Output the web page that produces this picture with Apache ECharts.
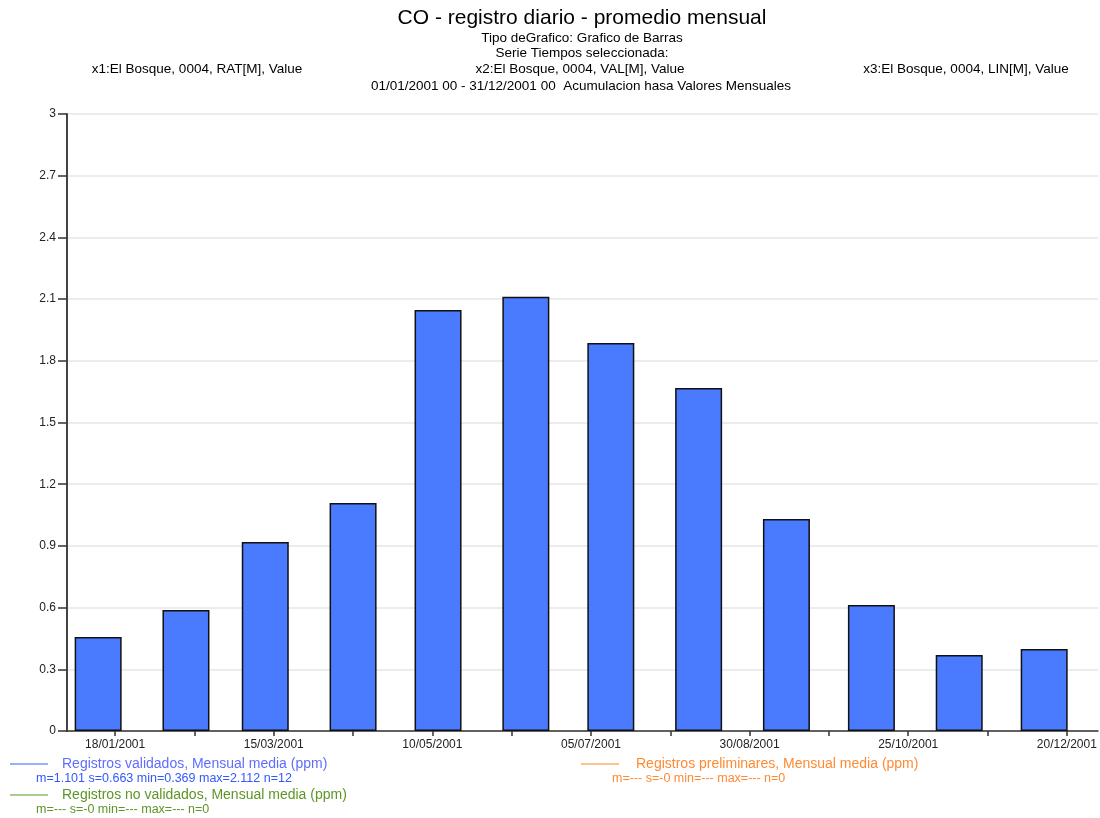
<!DOCTYPE html>
<html>
<head>
<meta charset="utf-8">
<title>CO - registro diario - promedio mensual</title>
<script src="https://cdn.jsdelivr.net/npm/echarts@6/dist/echarts.min.js"></script>
<style>
	html, body { margin: 0; padding: 0; background: #fff; }
	#chartDiv { width: 1100px; height: 818px; }
</style>
</head>
<body>
<div id="chartDiv"></div>
<script>
// datos mensuales (ppm)
var barDates = ['2001-01-12', '2001-02-12', '2001-03-12', '2001-04-12', '2001-05-12', '2001-06-12',
	'2001-07-12', '2001-08-12', '2001-09-12', '2001-10-12', '2001-11-12', '2001-12-12'];
var validados = [0.457, 0.588, 0.919, 1.109, 2.047, 2.112, 1.887, 1.668, 1.031, 0.613, 0.369, 0.399];
var preliminares = [];
var noValidados = [];

// marcas del eje x
var tickDates = ['2001-01-18', '2001-02-15', '2001-03-15', '2001-04-12', '2001-05-10', '2001-06-07', '2001-07-05',
	'2001-08-02', '2001-08-30', '2001-09-27', '2001-10-25', '2001-11-22', '2001-12-20'];
var labelDates = ['2001-01-18', '2001-03-15', '2001-05-10', '2001-07-05', '2001-08-30', '2001-10-25', '2001-12-20'];
var axisStart = '2001-01-01';
var axisEnd = '2001-12-31';

var titleText = 'CO - registro diario - promedio mensual';
var subLines = ['Tipo deGrafico: Grafico de Barras', 'Serie Tiempos seleccionada:'];
var serieLabels = ['x1:El Bosque, 0004, RAT[M], Value', 'x2:El Bosque, 0004, VAL[M], Value', 'x3:El Bosque, 0004, LIN[M], Value'];
var rangeText = '01/01/2001 00 - 31/12/2001 00  Acumulacion hasa Valores Mensuales';

var seriesNames = ['Registros validados, Mensual media (ppm)', 'Registros preliminares, Mensual media (ppm)', 'Registros no validados, Mensual media (ppm)'];
var seriesStats = ['m=1.101 s=0.663 min=0.369 max=2.112 n=12', 'm=--- s=-0 min=--- max=--- n=0', 'm=--- s=-0 min=--- max=--- n=0'];

var FONT = '"Liberation Sans", Arial, sans-serif';

function toTs(s) {
	var p = s.split('-');
	return new Date(+p[0], +p[1] - 1, +p[2]).getTime();
}

function pad2(n) {
	return n < 10 ? '0' + n : '' + n;
}

function fmtDate(v) {
	var d = new Date(v);
	return pad2(d.getDate()) + '/' + pad2(d.getMonth() + 1) + '/' + d.getFullYear();
}

function textEl(x, y, text, size, color, align) {
	return {
		type: 'text',
		x: x,
		y: y,
		silent: true,
		style: {
			text: text,
			fontFamily: FONT,
			fontSize: size,
			fill: color,
			align: align || 'left',
			verticalAlign: 'middle'
		}
	};
}

function lineEl(x1, x2, y, color) {
	return {
		type: 'line',
		silent: true,
		shape: { x1: x1, y1: y, x2: x2, y2: y },
		style: { stroke: color, lineWidth: 1.2 }
	};
}

var chart = echarts.init(document.getElementById('chartDiv'));

var legendColors = [
	{ line: '#3a5cff', text: '#5e6dff', stats: '#3357ff' },
	{ line: '#ff8a1e', text: '#ff8a33', stats: '#ff8a33' },
	{ line: '#5a9a22', text: '#5d9626', stats: '#5d9626' }
];
// linea, texto, estadisticas
var legendPos = [
	{ x: 10, tx: 62, sx: 36, y: 764 },
	{ x: 581, tx: 636, sx: 612, y: 764 },
	{ x: 10, tx: 62, sx: 36, y: 795 }
];

var graphics = [
	textEl(582, 18, titleText, 21, '#000', 'center'),
	textEl(582, 38, subLines[0], 13.5, '#000', 'center'),
	textEl(582, 53, subLines[1], 13.5, '#000', 'center'),
	textEl(197, 69, serieLabels[0], 13.5, '#000', 'center'),
	textEl(580, 69, serieLabels[1], 13.5, '#000', 'center'),
	textEl(966, 69, serieLabels[2], 13.5, '#000', 'center'),
	textEl(581, 86, rangeText, 13.5, '#000', 'center')
];

for (var i = 0; i < 3; i++) {
	var p = legendPos[i];
	graphics.push(lineEl(p.x, p.x + 38, p.y, legendColors[i].line));
	graphics.push(textEl(p.tx, p.y, seriesNames[i], 14, legendColors[i].text));
	graphics.push(textEl(p.sx, p.y + 15, seriesStats[i], 12.5, legendColors[i].stats));
}

var option = {
	animation: false,
	backgroundColor: '#fff',
	textStyle: { fontFamily: FONT },
	grid: {
		left: 67,
		right: 2,
		top: 114,
		bottom: 87
	},
	xAxis: {
		type: 'value',
		min: toTs(axisStart),
		max: toTs(axisEnd),
		axisLine: {
			lineStyle: { color: '#333', width: 1.5 }
		},
		axisTick: {
			show: true,
			length: 5,
			lineStyle: { color: '#333', width: 1.5 },
			customValues: tickDates.map(toTs)
		},
		axisLabel: {
			color: '#222',
			fontSize: 12,
			margin: 8,
			customValues: labelDates.map(toTs),
			formatter: function (v) {
				return fmtDate(v);
			}
		},
		splitLine: { show: false }
	},
	yAxis: {
		type: 'value',
		min: 0,
		max: 3,
		interval: 0.3,
		axisLine: {
			show: true,
			lineStyle: { color: '#444', width: 2 }
		},
		axisTick: {
			show: true,
			length: 9,
			lineStyle: { color: '#333', width: 1.5 }
		},
		axisLabel: {
			color: '#222',
			fontSize: 12,
			margin: 11,
			formatter: function (v) {
				return String(Math.round(v * 10) / 10);
			}
		},
		splitLine: {
			show: true,
			lineStyle: { color: '#e6e6e6', width: 1.5 }
		}
	},
	series: [
		{
			name: seriesNames[0],
			type: 'bar',
			barWidth: 47,
			data: barDates.map(function (d, i) {
				return [toTs(d), validados[i]];
			}),
			itemStyle: {
				color: '#4a7bff',
				borderColor: '#111',
				borderWidth: 1.5
			}
		},
		{
			name: seriesNames[1],
			type: 'line',
			data: preliminares,
			color: legendColors[1].line
		},
		{
			name: seriesNames[2],
			type: 'line',
			data: noValidados,
			color: legendColors[2].line
		}
	],
	graphic: graphics
};

chart.setOption(option);
</script>
</body>
</html>
